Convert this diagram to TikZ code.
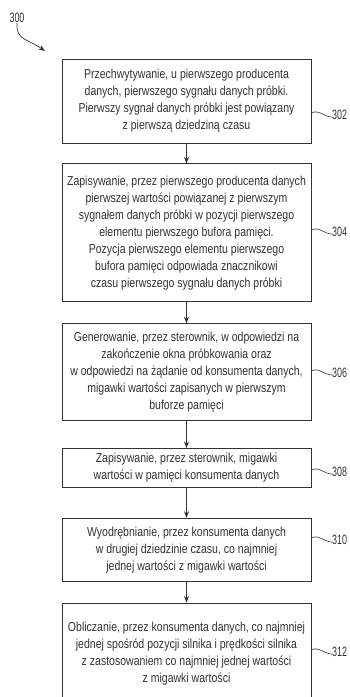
\documentclass[tikz,border=0pt]{standalone}
\usepackage{fontspec}
\setmainfont{Liberation Sans}[FakeStretch=0.81]
\newfontfamily\refnumfont{Liberation Sans}[FakeStretch=0.66]
\usetikzlibrary{positioning,arrows.meta,calc}
\definecolor{inkgray}{RGB}{50,50,50}
\tikzset{
  stepbox/.style={rectangle,draw=inkgray,line width=0.8pt,align=center,minimum width=249pt,inner xsep=2pt,inner ysep=1pt,text=inkgray,font=\fontsize{13}{17}\selectfont},
  flowedge/.style={-{Stealth[length=6.5pt,width=5pt]},line width=0.8pt,draw=inkgray},
  refnum/.style={anchor=west,inner sep=0pt,text=inkgray,font=\refnumfont\fontsize{13.5}{14}\selectfont},
  lead/.style={line width=0.6pt,draw=inkgray}
}
\begin{document}
\begin{tikzpicture}[x=1pt,y=-1pt,node distance=20pt]
  \useasboundingbox (0,0) rectangle (349,697);
  \node[stepbox,minimum height=84pt] (s302) at (186.5,101) {Przechwytywanie, u pierwszego producenta\\danych, pierwszego sygnału danych próbki.\\Pierwszy sygnał danych próbki jest powiązany\\z pierwszą dziedziną czasu};
  \node[stepbox,minimum height=138pt,below=20pt of s302] (s304) {Zapisywanie, przez pierwszego producenta danych\\pierwszej wartości powiązanej z pierwszym\\sygnałem danych próbki w pozycji pierwszego\\elementu pierwszego bufora pamięci.\\Pozycja pierwszego elementu pierwszego\\bufora pamięci odpowiada znacznikowi\\czasu pierwszego sygnału danych próbki};
  \node[stepbox,minimum height=97pt,below=21pt of s304] (s306) {Generowanie, przez sterownik, w odpowiedzi na\\zakończenie okna próbkowania oraz\\w odpowiedzi na żądanie od konsumenta danych,\\migawki wartości zapisanych w pierwszym\\buforze pamięci};
  \node[stepbox,minimum height=39pt,below=27pt of s306] (s308) {Zapisywanie, przez sterownik, migawki\\wartości w pamięci konsumenta danych};
  \node[stepbox,minimum height=63pt,below=30pt of s308] (s310) {Wyodrębnianie, przez konsumenta danych\\w drugiej dziedzinie czasu, co najmniej\\jednej wartości z migawki wartości};
  \node[stepbox,minimum height=102pt,below=21pt of s310] (s312) {Obliczanie, przez konsumenta danych, co najmniej\\jednej spośród pozycji silnika i prędkości silnika\\z zastosowaniem co najmniej jednej wartości\\z migawki wartości};

  \draw[flowedge] (s302) -- (s304);
  \draw[flowedge] (s304) -- (s306);
  \draw[flowedge] (s306) -- (s308);
  \draw[flowedge] (s308) -- (s310);
  \draw[flowedge] (s310) -- (s312);

  % reference numerals
  \node[refnum] (l302) at (332,115) {302};
  \node[refnum] (l304) at (332,232) {304};
  \node[refnum] (l306) at (332,373) {306};
  \node[refnum] (l308) at (332,472) {308};
  \node[refnum] (l310) at (332,540) {310};
  \node[refnum] (l312) at (332,652) {312};
  \draw[lead] ([yshift=2pt]s302.east |- l302.west) .. controls +(7,-4) and +(-8,0) .. ([yshift=-2pt]l302.west);
  \draw[lead] ([yshift=2pt]s304.east |- l304.west) .. controls +(7,-4) and +(-8,0) .. ([yshift=-2pt]l304.west);
  \draw[lead] ([yshift=2pt]s306.east |- l306.west) .. controls +(7,-4) and +(-8,0) .. ([yshift=-2pt]l306.west);
  \draw[lead] ([yshift=2pt]s308.east |- l308.west) .. controls +(7,-4) and +(-8,0) .. ([yshift=-2pt]l308.west);
  \draw[lead] ([yshift=2pt]s310.east |- l310.west) .. controls +(7,-4) and +(-8,0) .. ([yshift=-2pt]l310.west);
  \draw[lead] ([yshift=2pt]s312.east |- l312.west) .. controls +(7,-4) and +(-8,0) .. ([yshift=-2pt]l312.west);

  \node[refnum,anchor=center] (l300) at (17,18) {300};
  \coordinate (t300) at (45,51);
  \draw[flowedge,line width=0.7pt] (l300.south) .. controls (16,40) and (26,38) .. (t300);
\end{tikzpicture}
\end{document}
